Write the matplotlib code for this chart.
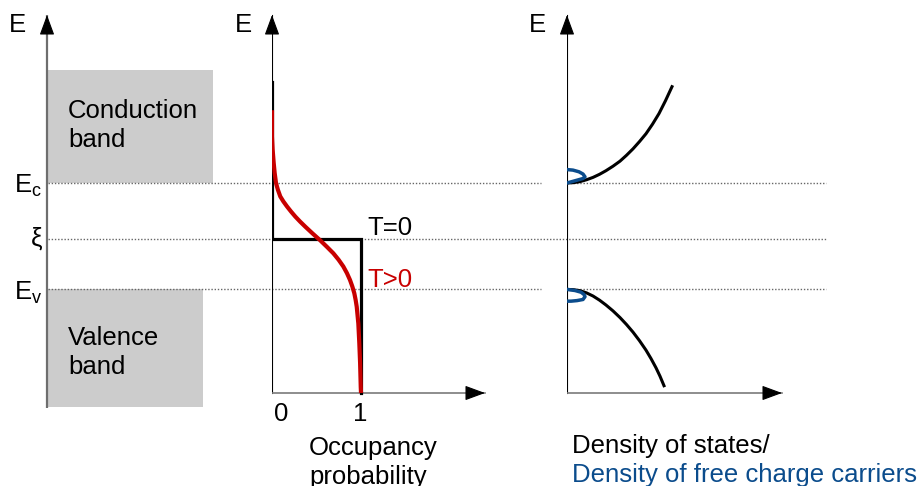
import numpy as np
import matplotlib.pyplot as plt
from matplotlib.patches import Rectangle

plt.rcParams["font.family"] = ["Liberation Sans", "DejaVu Sans"]
plt.rcParams["mathtext.fontset"] = "custom"
plt.rcParams["mathtext.rm"] = "Liberation Sans"
plt.rcParams["mathtext.it"] = "Liberation Sans:italic"

# energies in units of (Ec - xi), Fermi level at zero
E_C = 1.0
XI = 0.0
E_V = -0.9
level_energies = [E_C, XI, E_V]
level_labels = [r"$\mathregular{E_c}$", "ξ", r"$\mathregular{E_v}$"]

# band blocks: label, lower edge, upper edge
band_labels = ["Conduction\nband", "Valence\nband"]
band_lower = [E_C, -3.0]
band_upper = [3.02, E_V]

# occupancy probability, T = 0 (step) and T > 0
step_energy = [2.80, XI, XI, -2.75]
step_value = [0.0, 0.0, 1.0, 1.0]
fermi_energy = [2.30, 1.83, 1.60, 1.36, 1.18, 1.00, 0.88, 0.76, 0.67, 0.58,
                0.49, 0.40, 0.31, 0.22, 0.10, -0.02, -0.14, -0.255, -0.37,
                -0.49, -0.61, -0.73, -0.85, -0.97, -1.09, -1.21, -1.51,
                -1.86, -2.22, -2.64, -2.75]
fermi_value = [0.000, 0.000, 0.007, 0.019, 0.030, 0.045, 0.066, 0.093, 0.128,
               0.169, 0.214, 0.262, 0.316, 0.374, 0.455, 0.539, 0.617, 0.689,
               0.748, 0.801, 0.842, 0.876, 0.903, 0.925, 0.940, 0.952, 0.970,
               0.981, 0.990, 0.997, 1.000]
occ_ticks = [0, 1]

# density of states above Ec and below Ev
dos_c_x = [0.00, 0.065, 0.13, 0.195, 0.26, 0.325, 0.39, 0.46, 0.53, 0.595,
           0.66, 0.725, 0.79, 0.855, 0.92, 0.985, 1.05]
dos_c_E = [1.00, 1.006, 1.025, 1.058, 1.10, 1.155, 1.22, 1.30, 1.39, 1.495,
           1.61, 1.74, 1.88, 2.05, 2.24, 2.47, 2.72]
dos_v_x = [0.00, 0.065, 0.13, 0.195, 0.26, 0.325, 0.39, 0.46, 0.53, 0.595,
           0.66, 0.725, 0.79, 0.84, 0.89, 0.93, 0.97]
dos_v_E = [-0.90, -0.905, -0.923, -0.962, -1.018, -1.092, -1.179, -1.284,
           -1.403, -1.527, -1.663, -1.816, -1.985, -2.135, -2.30, -2.45, -2.62]

# free electrons / holes near the band edges
elec_x = [0.00, 0.06, 0.12, 0.16, 0.18, 0.16, 0.12, 0.06, 0.00]
elec_E = [1.00, 1.03, 1.06, 1.08, 1.11, 1.16, 1.20, 1.23, 1.24]
hole_x = [0.00, 0.08, 0.14, 0.17, 0.18, 0.16, 0.10, 0.04, 0.00]
hole_E = [-0.90, -0.92, -0.95, -0.99, -1.03, -1.08, -1.10, -1.11, -1.11]

RED = "#c80000"
BLUE = "#0b4c8c"
GREY_BAND = "#cccccc"
FS = 18.5

W, H = 920, 486
Y0, PX_E = 239, 56.0          # pixel row of xi, pixels per energy unit
E_LIM = ((Y0 - H) / PX_E, Y0 / PX_E)
E_TOP = 4.0                    # tip of the energy arrows
E_AXIS = -2.75                 # horizontal axes of the two right panels
LINE_GAP = 29 / PX_E           # baseline distance of two-line labels
HEAD = 18 / PX_E


def e(px):
    return (Y0 - px) / PX_E


fig = plt.figure(figsize=(W / 100, H / 100), dpi=100)

ax = fig.add_axes([0, 0, 1, 1])
ax.set_xlim(0, W)
ax.set_ylim(*E_LIM)
ax.axis("off")

occ = fig.add_axes([272 / W, 0, 240 / W, 1])
occ.set_xlim(0, 240 / 89)
occ.set_ylim(*E_LIM)
occ.axis("off")

dos = fig.add_axes([567 / W, 0, 260 / W, 1])
dos.set_xlim(0, 2.6)
dos.set_ylim(*E_LIM)
dos.axis("off")

arrow_style = dict(arrowstyle="-|>,head_length=12.5,head_width=4.6",
                   mutation_scale=1, color="black", lw=0.8,
                   shrinkA=0, shrinkB=0)


def two_lines(a, x, y, text, **kw):
    for i, line in enumerate(text.split("\n")):
        a.text(x, y - i * LINE_GAP, line, fontsize=FS, va="baseline", **kw)


# left panel: bands
ax.plot([47, 47], [-3.02, E_TOP], color="#6e6e6e", lw=1.6, solid_capstyle="butt")
ax.annotate("", xy=(47, E_TOP), xytext=(47, E_TOP - HEAD), arrowprops=arrow_style)
ax.text(17, e(25), "E", fontsize=FS, ha="center", va="center")

for label, lo, hi, right, base in zip(band_labels, band_lower, band_upper,
                                       [213, 203], [118, 345]):
    ax.add_patch(Rectangle((48, lo), right - 48, hi - lo, color=GREY_BAND, lw=0))
    two_lines(ax, 68, e(base), label)

# dotted level lines across all panels
segments = {E_C: [(48, 541), (567, 826)], XI: [(48, 826)], E_V: [(48, 541), (567, 826)]}
for lev in level_energies:
    for x0, x1 in segments[lev]:
        ax.plot([x0, x1], [lev, lev], color="#666666", lw=1.0,
                linestyle=(0, (1, 1.3)), zorder=1)

for lev, lab in zip(level_energies, level_labels):
    off = 0.11 if lev == XI else 0.18
    ax.text(42, lev - off, lab, fontsize=FS, ha="right", va="baseline")

# middle panel: occupancy probability
occ.plot([0, 0], [E_AXIS, E_TOP], color="black", lw=0.8)
occ.annotate("", xy=(0, E_TOP), xytext=(0, E_TOP - HEAD), arrowprops=arrow_style)
occ.plot([0, 213 / 89], [E_AXIS, E_AXIS], color="#7a7a7a", lw=1.2)
occ.annotate("", xy=(213 / 89, E_AXIS), xytext=(196 / 89, E_AXIS), arrowprops=arrow_style)
occ.plot(step_value, step_energy, color="black", lw=2.3, solid_joinstyle="miter")
occ.plot(fermi_value, fermi_energy, color=RED, lw=3.0, solid_capstyle="butt",
         solid_joinstyle="round")
ax.text(243, e(25), "E", fontsize=FS, ha="center", va="center")
for t, shift in zip(occ_ticks, [0.1, -0.01]):
    occ.text(t + shift, e(421), str(t), fontsize=FS, ha="center", va="baseline")
occ.text(1.07, e(235), "T=0", fontsize=FS, va="baseline")
occ.text(1.07, e(287), "T>0", fontsize=FS, va="baseline", color=RED)
two_lines(occ, 0.416, e(455), "Occupancy\nprobability")

# right panel: density of states and free carriers
dos.plot([0, 0], [E_AXIS, E_TOP], color="black", lw=0.8)
dos.annotate("", xy=(0, E_TOP), xytext=(0, E_TOP - HEAD), arrowprops=arrow_style)
dos.plot([0, 2.15], [E_AXIS, E_AXIS], color="#7a7a7a", lw=1.2)
dos.annotate("", xy=(2.15, E_AXIS), xytext=(1.98, E_AXIS), arrowprops=arrow_style)
dos.plot(dos_c_x, dos_c_E, color="black", lw=2.2, solid_joinstyle="round")
dos.plot(dos_v_x, dos_v_E, color="black", lw=2.2, solid_joinstyle="round")
dos.plot(elec_x, elec_E, color=BLUE, lw=2.5, solid_joinstyle="round")
dos.plot(hole_x, hole_E, color=BLUE, lw=2.5, solid_joinstyle="round")
ax.text(537, e(25), "E", fontsize=FS, ha="center", va="center")
dos.text(0.05, e(453), "Density of states/", fontsize=FS, va="baseline")
dos.text(0.05, e(453) - LINE_GAP, "Density of free charge carriers",
         fontsize=FS, va="baseline", color=BLUE)

fig.savefig("out.png", dpi=100)
